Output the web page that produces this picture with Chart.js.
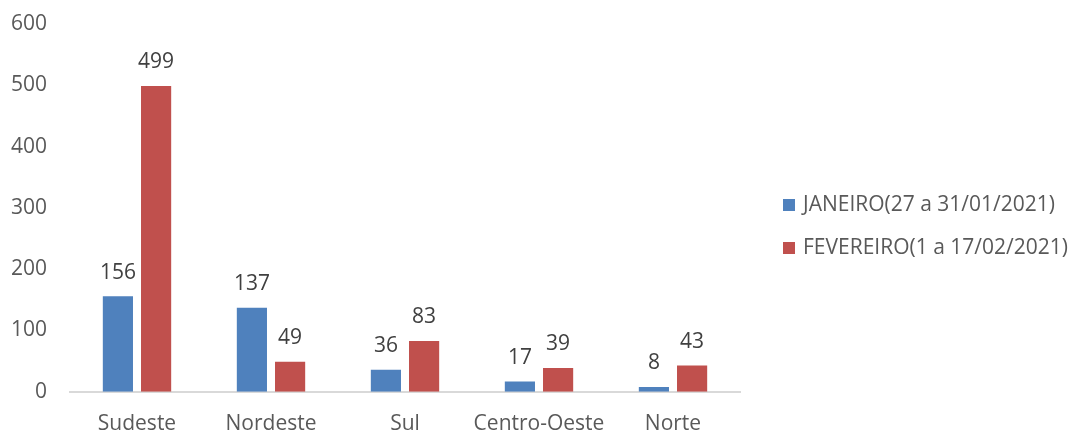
<!DOCTYPE html>
<html>
<head>
<meta charset="utf-8">
<script src="https://cdn.jsdelivr.net/npm/chart.js@4"></script>
<style>
  html, body { margin: 0; padding: 0; background: #fff; }
  #wrap { position: relative; width: 1078px; height: 434px; }
  .leg { position: absolute; left: 783px; font: 21px 'Open Sans', sans-serif; color: #595959; white-space: nowrap; line-height: 26px; }
  .leg span { display: inline-block; width: 12px; height: 12px; margin-right: 8px; vertical-align: 0px; }
</style>
</head>
<body>
<div id="wrap">
  <canvas id="regioes" width="1078" height="434"></canvas>
  <div class="leg" id="legJan" style="top:190px"><span style="background:#4F81BD"></span></div>
  <div class="leg" id="legFev" style="top:233px"><span style="background:#C0504D"></span></div>
</div>
<script>
// Dados por região
const regioes = ['Sudeste', 'Nordeste', 'Sul', 'Centro-Oeste', 'Norte'];
const janeiro = [156, 137, 36, 17, 8];
const fevereiro = [499, 49, 83, 39, 43];
const rotuloJan = 'JANEIRO(27 a 31/01/2021)';
const rotuloFev = 'FEVEREIRO(1 a 17/02/2021)';
const ticksY = [0, 100, 200, 300, 400, 500, 600];

const corJan = '#4F81BD';
const corFev = '#C0504D';
const fonte = 'Open Sans';

// legenda em html
document.getElementById('legJan').append(rotuloJan);
document.getElementById('legFev').append(rotuloFev);

// rótulos de valor acima das barras
const valoresPlugin = {
  id: 'valores',
  afterDatasetsDraw(chart) {
    const ctx = chart.ctx;
    ctx.save();
    ctx.font = '21px ' + fonte;
    ctx.fillStyle = '#404040';
    ctx.textAlign = 'center';
    ctx.textBaseline = 'bottom';
    chart.data.datasets.forEach((ds, i) => {
      chart.getDatasetMeta(i).data.forEach((bar, j) => {
        ctx.fillText(ds.data[j], bar.x, bar.y - 13);
      });
    });
    ctx.restore();
  }
};

new Chart(document.getElementById('regioes'), {
  type: 'bar',
  data: {
    labels: regioes,
    datasets: [
      { label: rotuloJan, data: janeiro, backgroundColor: corJan },
      { label: rotuloFev, data: fevereiro, backgroundColor: corFev }
    ]
  },
  options: {
    responsive: false,
    animation: false,
    categoryPercentage: 0.57,
    barPercentage: 0.79,
    layout: { padding: { top: 24, left: 8, right: 338, bottom: -23 } },
    scales: {
      x: {
        grid: { display: false, drawTicks: false },
        border: { color: '#D9D9D9', width: 2 },
        ticks: { color: '#595959', font: { family: fonte, size: 21 }, padding: 20, autoSkip: false, maxRotation: 0 }
      },
      y: {
        min: 0, max: 600,
        afterBuildTicks: axis => { axis.ticks = ticksY.map(v => ({ value: v })); },
        afterFit: axis => { axis.width = 62; },
        grid: { display: false, drawTicks: true, tickLength: 20 },
        border: { display: false },
        ticks: { color: '#595959', font: { family: fonte, size: 21 }, padding: 3 }
      }
    },
    plugins: {
      legend: { display: false },
      tooltip: { enabled: false }
    }
  },
  plugins: [valoresPlugin]
});
</script>
</body>
</html>
